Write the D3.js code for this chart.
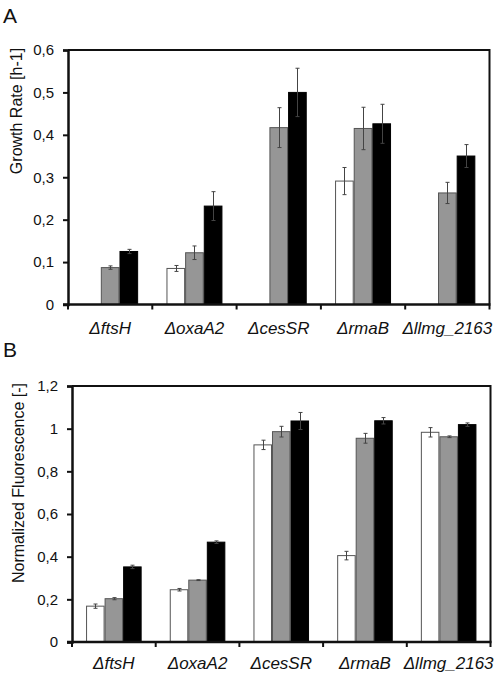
<!DOCTYPE html>
<html>
<head>
<meta charset="utf-8">
<script src="https://cdn.jsdelivr.net/npm/d3@7"></script>
<style>
  html, body { margin: 0; padding: 0; background: #fff; }
  svg { display: block; }
  text { font-family: "Liberation Sans", Arial, sans-serif; fill: #111; }
</style>
</head>
<body>
<svg id="chart" width="497" height="679"></svg>
<script>
const categories = ["ΔftsH", "ΔoxaA2", "ΔcesSR", "ΔrmaB", "Δllmg_2163"];
const seriesNames = ["white", "gray", "black"];

// Panel A: growth rate [h-1]
const growthWhite    = [null, 0.085, null, 0.291, null];
const growthWhiteErr = [null, 0.007, null, 0.032, null];
const growthGray     = [0.087, 0.122, 0.417, 0.415, 0.263];
const growthGrayErr  = [0.004, 0.016, 0.047, 0.050, 0.025];
const growthBlack    = [0.125, 0.232, 0.500, 0.426, 0.350];
const growthBlackErr = [0.005, 0.034, 0.057, 0.046, 0.027];
const growthTicks    = [0, 0.1, 0.2, 0.3, 0.4, 0.5, 0.6];

// Panel B: normalized fluorescence [-]
const fluorWhite    = [0.168, 0.245, 0.924, 0.405, 0.983];
const fluorWhiteErr = [0.010, 0.006, 0.022, 0.020, 0.022];
const fluorGray     = [0.203, 0.290, 0.986, 0.955, 0.962];
const fluorGrayErr  = [0.005, 0.002, 0.025, 0.023, 0.004];
const fluorBlack    = [0.352, 0.468, 1.036, 1.037, 1.019];
const fluorBlackErr = [0.008, 0.006, 0.040, 0.015, 0.008];
const fluorTicks    = [0, 0.2, 0.4, 0.6, 0.8, 1.0, 1.2];

const fills = { white: "#ffffff", gray: "#969696", black: "#000000" };
const strokes = { white: "#555555", gray: "#555555", black: "#000000" };

const svg = d3.select("#chart");
const fmt = v => (Math.round(v * 10) / 10).toString().replace(".", ",");

function panel(cfg) {
  const { left, right, top, bottom, yMax, ticks, vals, errs, title, titleCenterY, letter, letterY, labelY } = cfg;
  const g = svg.append("g");

  const y = d3.scaleLinear().domain([0, yMax]).range([bottom, top]);
  const pad = 0.336;
  const x = d3.scaleBand().domain(categories).range([left, right])
    .paddingInner(pad).paddingOuter(pad / 2);
  const xs = d3.scaleBand().domain(seriesNames).range([0, x.bandwidth()]).padding(0);

  // panel letter
  g.append("text").attr("x", 3).attr("y", letterY)
    .style("font-size", "21px").text(letter);

  // bars
  categories.forEach((c, i) => {
    seriesNames.forEach((s, k) => {
      const v = vals[k][i];
      if (v == null) return;
      g.append("rect")
        .attr("x", x(c) + xs(s) + 0.5)
        .attr("y", y(v))
        .attr("width", xs.bandwidth() - 1)
        .attr("height", y(0) - y(v))
        .attr("fill", fills[s])
        .attr("stroke", strokes[s])
        .attr("stroke-width", 1);
    });
  });

  // error bars
  categories.forEach((c, i) => {
    seriesNames.forEach((s, k) => {
      const v = vals[k][i], e = errs[k][i];
      if (v == null || e == null) return;
      const cx = Math.round(x(c) + xs(s) + xs.bandwidth() / 2) + 0.5;
      g.append("line").attr("x1", cx).attr("x2", cx)
        .attr("y1", y(v - e)).attr("y2", y(v + e))
        .attr("stroke", "#444").attr("stroke-width", 1);
      [v - e, v + e].forEach(w => {
        g.append("line").attr("x1", cx - 2).attr("x2", cx + 2)
          .attr("y1", y(w)).attr("y2", y(w))
          .attr("stroke", "#444").attr("stroke-width", 1);
      });
    });
  });

  // frame (top and right)
  g.append("path")
    .attr("d", `M${left},${top}H${right}V${bottom}`)
    .attr("fill", "none").attr("stroke", "#111").attr("stroke-width", 2);

  // y axis
  const yAxis = d3.axisLeft(y).tickValues(ticks).tickFormat(fmt).tickSizeOuter(0).tickSize(5).tickPadding(9);
  const ya = g.append("g").attr("transform", `translate(${left},0)`).call(yAxis);
  ya.select(".domain").attr("stroke", "#111").attr("stroke-width", 2.5);
  ya.selectAll(".tick line").attr("stroke", "#111").attr("stroke-width", 2);
  ya.selectAll(".tick text").style("font-size", "15px").style("font-family", '"Liberation Sans", Arial, sans-serif').attr("fill", "#111");

  // x axis line
  g.append("line").attr("x1", left - 5).attr("x2", right + 1)
    .attr("y1", bottom).attr("y2", bottom)
    .attr("stroke", "#111").attr("stroke-width", 2.5);
  // x category-boundary ticks
  const boundaries = d3.range(categories.length + 1).map(j => left + j * x.step());
  g.selectAll(null).data(boundaries).enter().append("line")
    .attr("x1", d => d).attr("x2", d => d)
    .attr("y1", bottom).attr("y2", bottom + 5)
    .attr("stroke", "#111").attr("stroke-width", 2);

  // x labels
  g.selectAll(null).data(categories).enter().append("text")
    .attr("x", d => x(d) + x.bandwidth() / 2)
    .attr("y", labelY)
    .attr("text-anchor", "middle")
    .style("font-size", "17px").style("font-style", "italic")
    .text(d => d);

  // y title
  g.append("text")
    .attr("transform", `translate(${cfg.titleX},${titleCenterY}) rotate(-90)`)
    .attr("text-anchor", "middle")
    .style("font-size", "16px")
    .text(title);
}

panel({
  left: 68, right: 489.5, top: 50, bottom: 304.5, yMax: 0.6, ticks: growthTicks,
  vals: [growthWhite, growthGray, growthBlack],
  errs: [growthWhiteErr, growthGrayErr, growthBlackErr],
  title: "Growth Rate [h-1]", titleX: 22, titleCenterY: 111,
  letter: "A", letterY: 23, labelY: 334
});

panel({
  left: 72, right: 490.5, top: 386, bottom: 642, yMax: 1.2, ticks: fluorTicks,
  vals: [fluorWhite, fluorGray, fluorBlack],
  errs: [fluorWhiteErr, fluorGrayErr, fluorBlackErr],
  title: "Normalized Fluorescence [-]", titleX: 24, titleCenterY: 483,
  letter: "B", letterY: 357, labelY: 669
});
</script>
</body>
</html>
